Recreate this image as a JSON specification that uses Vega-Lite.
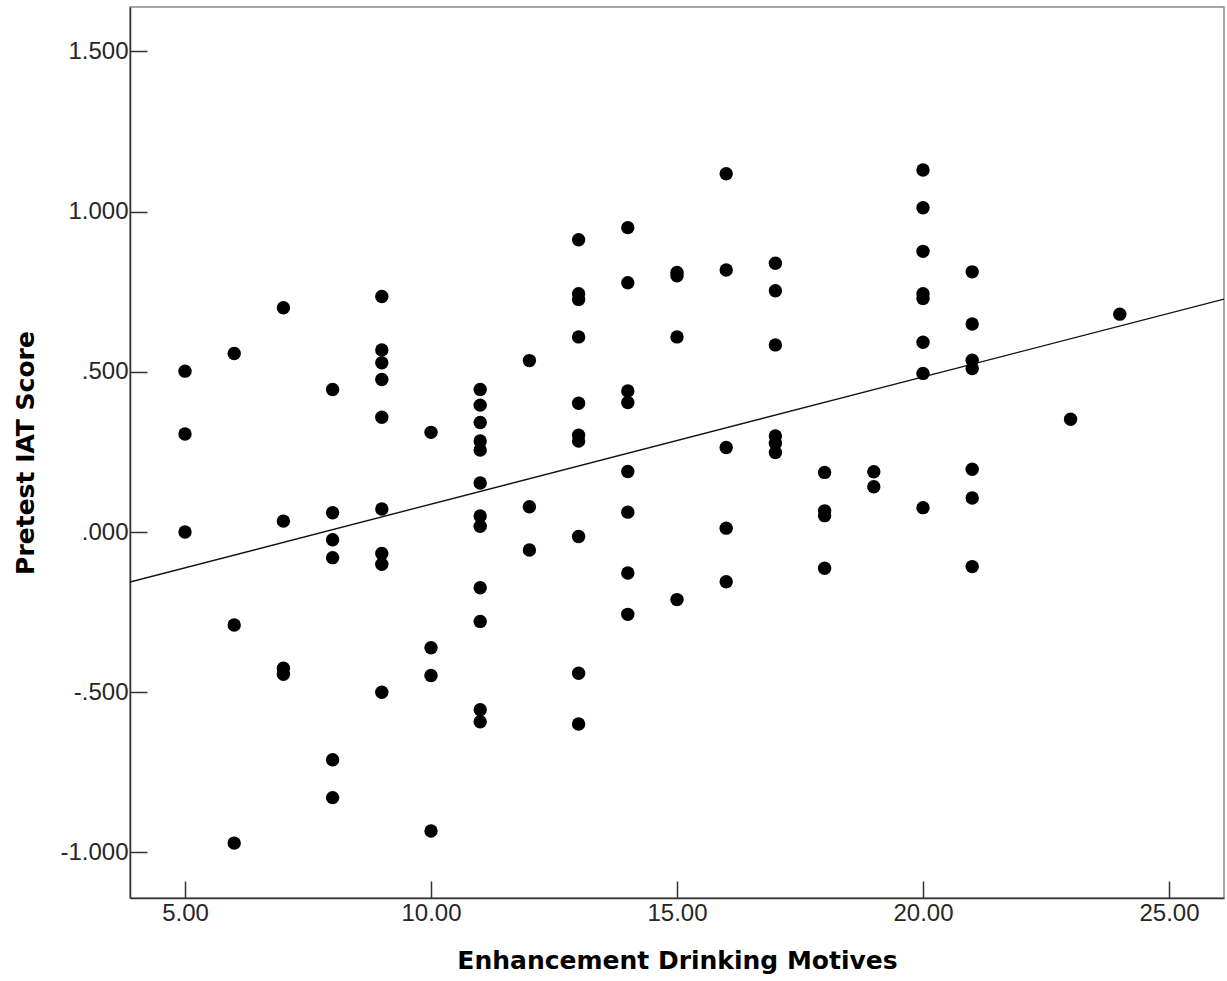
{
  "$schema": "https://vega.github.io/schema/vega-lite/v6.json",
  "autosize": "none",
  "width": 1094,
  "height": 891,
  "padding": {"left": 130, "top": 7, "right": 3, "bottom": 83},
  "background": "white",
  "config": {
    "view": {"stroke": "#888888", "strokeWidth": 1.5},
    "axis": {
      "grid": false,
      "domainColor": "#333333",
      "domainWidth": 1.5,
      "tickColor": "#333333",
      "tickWidth": 1.5,
      "tickSize": -17,
      "labelFont": "Liberation Sans",
      "labelFontSize": 24,
      "labelColor": "#262626",
      "titleFont": "DejaVu Sans",
      "titleFontSize": 25,
      "titleFontWeight": "bold",
      "titleColor": "#000000"
    }
  },
  "datasets": {
    "points": [
      {"motives": 5, "iat": 0.502}, {"motives": 5, "iat": 0.306}, {"motives": 5, "iat": 0.0},
      {"motives": 6, "iat": 0.557}, {"motives": 6, "iat": -0.290}, {"motives": 6, "iat": -0.971},
      {"motives": 7, "iat": 0.700}, {"motives": 7, "iat": 0.034}, {"motives": 7, "iat": -0.425}, {"motives": 7, "iat": -0.444},
      {"motives": 8, "iat": 0.445}, {"motives": 8, "iat": 0.060}, {"motives": 8, "iat": -0.024}, {"motives": 8, "iat": -0.080}, {"motives": 8, "iat": -0.711}, {"motives": 8, "iat": -0.829},
      {"motives": 9, "iat": 0.735}, {"motives": 9, "iat": 0.568}, {"motives": 9, "iat": 0.528}, {"motives": 9, "iat": 0.476}, {"motives": 9, "iat": 0.358}, {"motives": 9, "iat": 0.072}, {"motives": 9, "iat": -0.067}, {"motives": 9, "iat": -0.101}, {"motives": 9, "iat": -0.500},
      {"motives": 10, "iat": 0.311}, {"motives": 10, "iat": -0.361}, {"motives": 10, "iat": -0.448}, {"motives": 10, "iat": -0.933},
      {"motives": 11, "iat": 0.445}, {"motives": 11, "iat": 0.396}, {"motives": 11, "iat": 0.342}, {"motives": 11, "iat": 0.284}, {"motives": 11, "iat": 0.256}, {"motives": 11, "iat": 0.153}, {"motives": 11, "iat": 0.050}, {"motives": 11, "iat": 0.018}, {"motives": 11, "iat": -0.174}, {"motives": 11, "iat": -0.279}, {"motives": 11, "iat": -0.555}, {"motives": 11, "iat": -0.592},
      {"motives": 12, "iat": 0.535}, {"motives": 12, "iat": 0.079}, {"motives": 12, "iat": -0.056},
      {"motives": 13, "iat": 0.912}, {"motives": 13, "iat": 0.744}, {"motives": 13, "iat": 0.726}, {"motives": 13, "iat": 0.609}, {"motives": 13, "iat": 0.402}, {"motives": 13, "iat": 0.302}, {"motives": 13, "iat": 0.284}, {"motives": 13, "iat": -0.014}, {"motives": 13, "iat": -0.441}, {"motives": 13, "iat": -0.599},
      {"motives": 14, "iat": 0.950}, {"motives": 14, "iat": 0.778}, {"motives": 14, "iat": 0.440}, {"motives": 14, "iat": 0.404}, {"motives": 14, "iat": 0.189}, {"motives": 14, "iat": 0.062}, {"motives": 14, "iat": -0.128}, {"motives": 14, "iat": -0.257},
      {"motives": 15, "iat": 0.810}, {"motives": 15, "iat": 0.800}, {"motives": 15, "iat": 0.609}, {"motives": 15, "iat": -0.211},
      {"motives": 16, "iat": 1.118}, {"motives": 16, "iat": 0.818}, {"motives": 16, "iat": 0.264}, {"motives": 16, "iat": 0.012}, {"motives": 16, "iat": -0.155},
      {"motives": 17, "iat": 0.839}, {"motives": 17, "iat": 0.753}, {"motives": 17, "iat": 0.584}, {"motives": 17, "iat": 0.300}, {"motives": 17, "iat": 0.277}, {"motives": 17, "iat": 0.248},
      {"motives": 18, "iat": 0.186}, {"motives": 18, "iat": 0.066}, {"motives": 18, "iat": 0.051}, {"motives": 18, "iat": -0.113},
      {"motives": 19, "iat": 0.188}, {"motives": 19, "iat": 0.141},
      {"motives": 20, "iat": 1.130}, {"motives": 20, "iat": 1.012}, {"motives": 20, "iat": 0.876}, {"motives": 20, "iat": 0.744}, {"motives": 20, "iat": 0.729}, {"motives": 20, "iat": 0.592}, {"motives": 20, "iat": 0.495}, {"motives": 20, "iat": 0.076},
      {"motives": 21, "iat": 0.812}, {"motives": 21, "iat": 0.649}, {"motives": 21, "iat": 0.536}, {"motives": 21, "iat": 0.510}, {"motives": 21, "iat": 0.196}, {"motives": 21, "iat": 0.106}, {"motives": 21, "iat": -0.108},
      {"motives": 23, "iat": 0.352},
      {"motives": 24, "iat": 0.680}
    ],
    "fit": [
      {"motives": 3.882, "iat": -0.156},
      {"motives": 26.118, "iat": 0.727}
    ]
  },
  "layer": [
    {
      "data": {"name": "fit"},
      "mark": {"type": "line", "color": "#111111", "strokeWidth": 1.4, "clip": true},
      "encoding": {
        "x": {"field": "motives", "type": "quantitative"},
        "y": {"field": "iat", "type": "quantitative"}
      }
    },
    {
      "data": {"name": "points"},
      "mark": {"type": "circle", "color": "#000000", "opacity": 1, "size": 180},
      "encoding": {
        "x": {
          "field": "motives",
          "type": "quantitative",
          "scale": {"domain": [3.882, 26.118], "nice": false, "zero": false},
          "axis": {
            "title": "Enhancement Drinking Motives",
            "values": [5, 10, 15, 20, 25],
            "format": ".2f",
            "labelPadding": 20,
            "titleBaseline": "alphabetic",
            "titleY": 70,
            "titleAnchor": "middle"
          }
        },
        "y": {
          "field": "iat",
          "type": "quantitative",
          "scale": {"domain": [-1.1423, 1.6386], "nice": false, "zero": false},
          "axis": {
            "title": "Pretest IAT Score",
            "values": [-1, -0.5, 0, 0.5, 1, 1.5],
            "labelExpr": "replace(replace(format(datum.value, '.3f'), '\u2212', '-'), '0.', '.')",
            "labelPadding": 19,
            "titleBaseline": "alphabetic",
            "titleX": -97,
            "titleY": 445.5,
            "titleAnchor": "middle"
          }
        }
      }
    }
  ]
}
